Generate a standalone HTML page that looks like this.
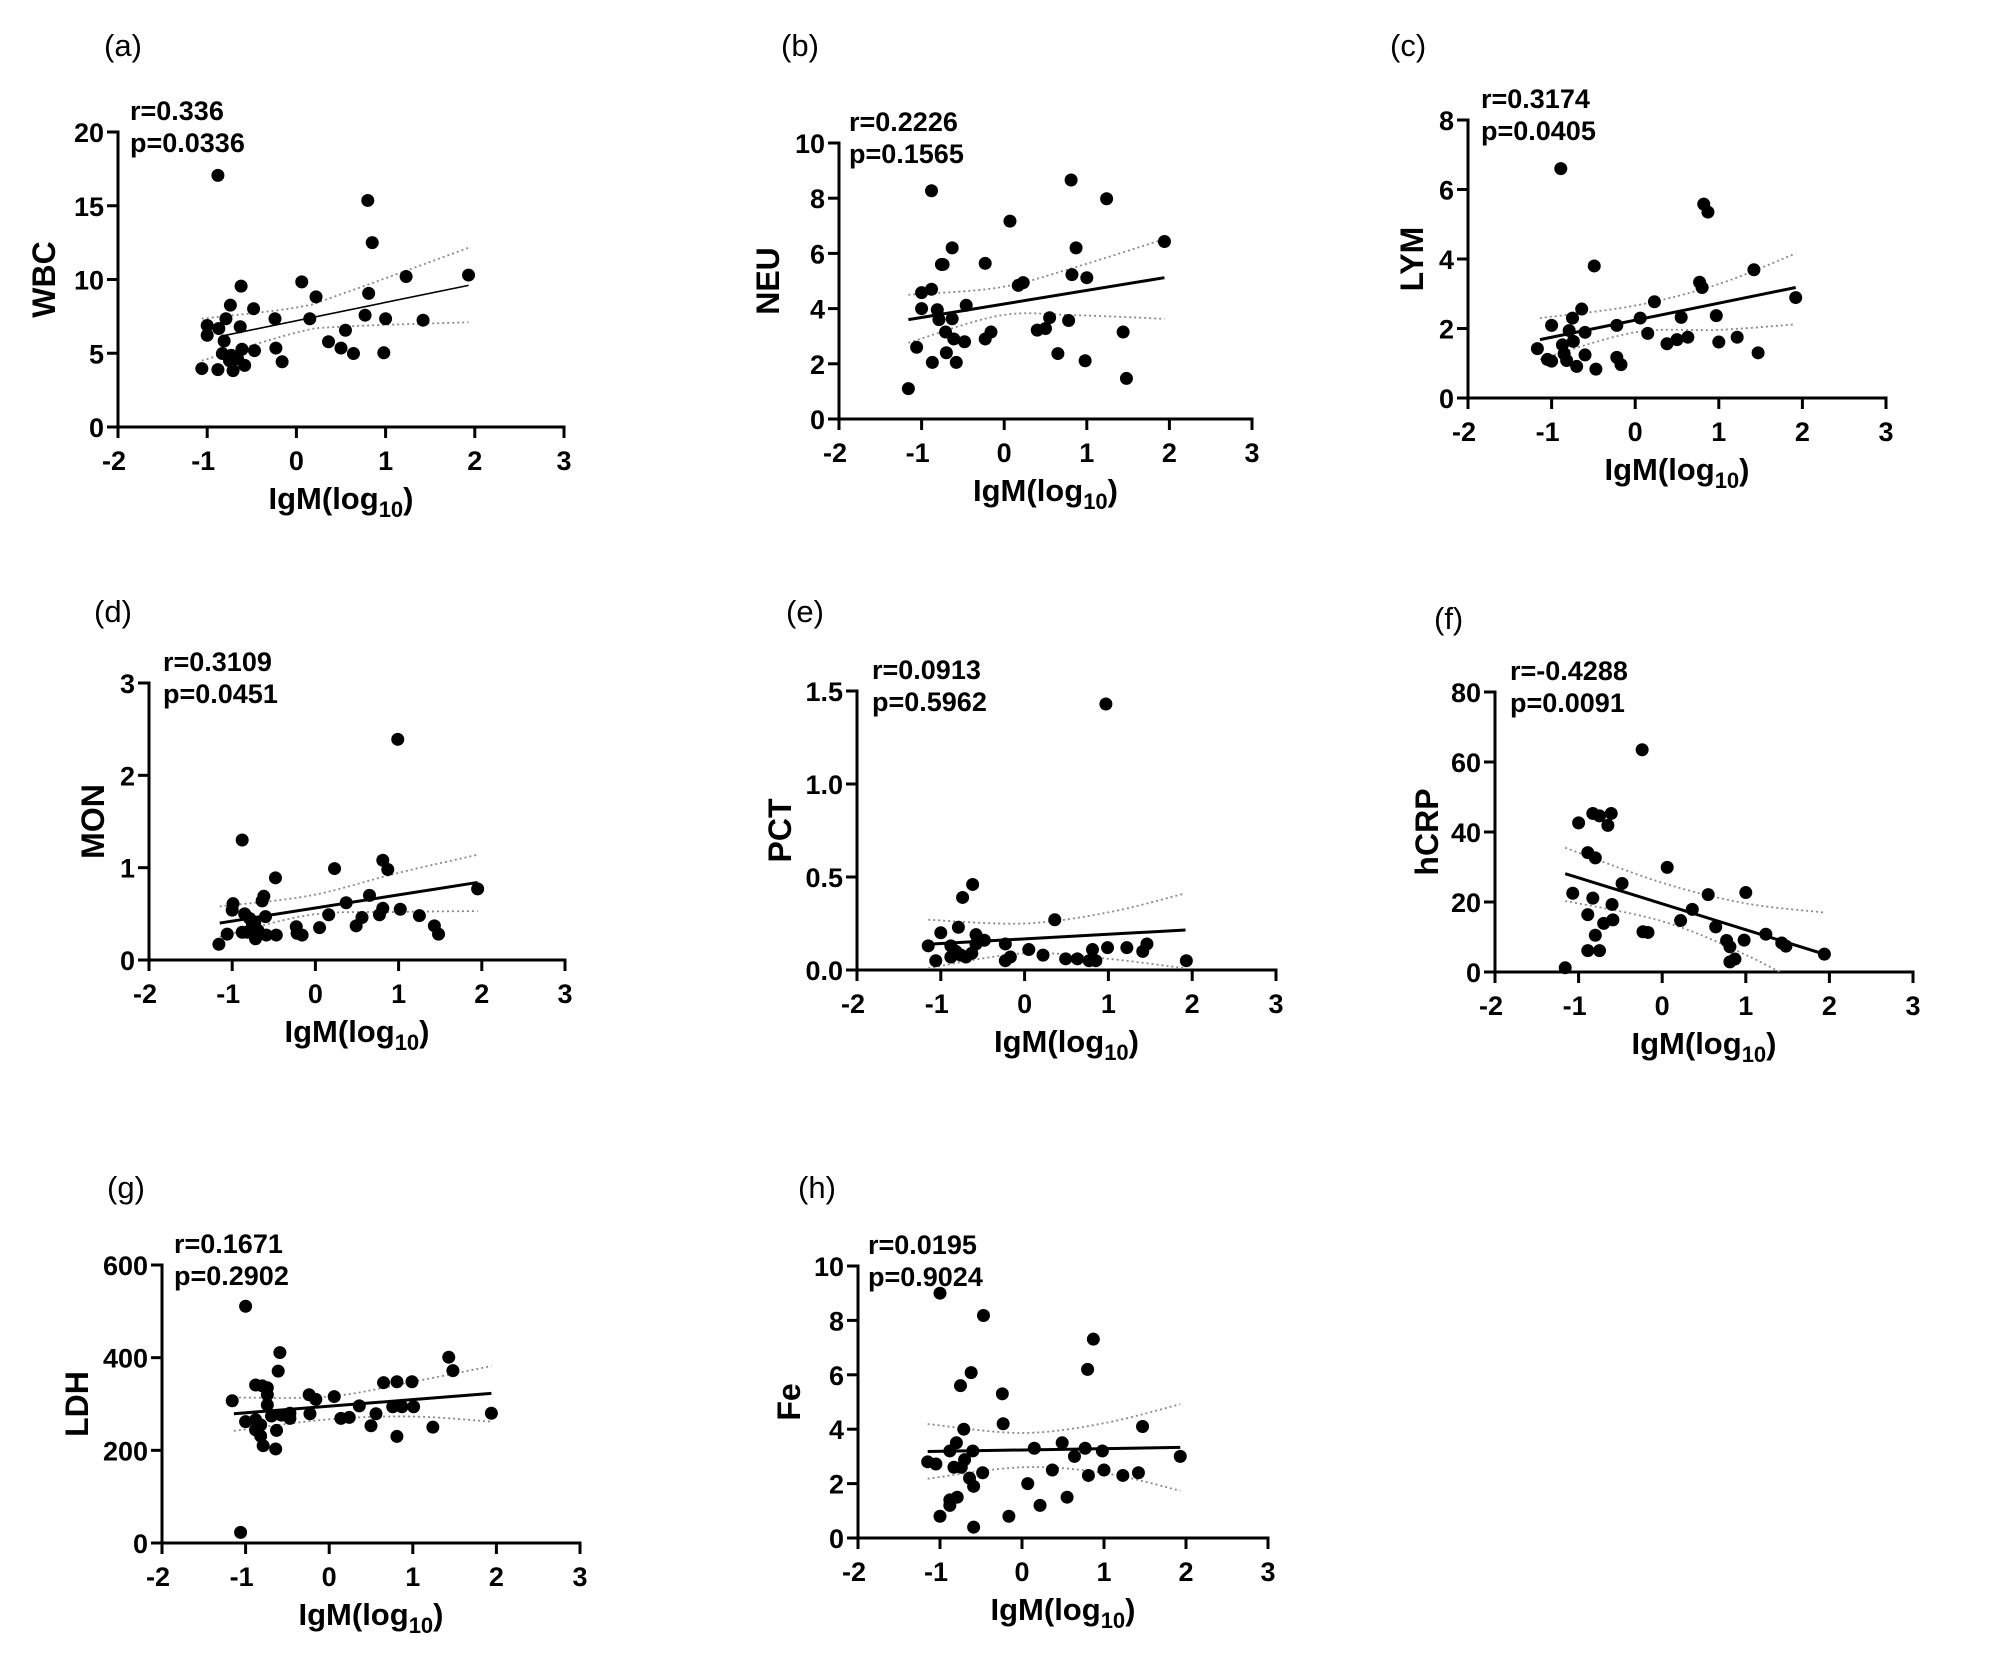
<!DOCTYPE html>
<html><head><meta charset="utf-8"><style>
html,body{margin:0;padding:0;background:#fff;}
svg{display:block;}
text{font-family:"Liberation Sans",Arial,sans-serif;}
</style></head><body>
<svg id="fig" width="2000" height="1661" viewBox="0 0 2000 1661" xmlns="http://www.w3.org/2000/svg"></svg>
<script>
// ---- data ----
const xTicks=[-2,-1,0,1,2,3];
const aX=[-0.88,0.80,0.85,1.23,1.93,0.06,-0.62,0.22,0.81,-0.74,-0.48,-1.0,-1.0,-0.87,-0.79,-0.63,-0.24,0.15,0.77,1.0,1.42,0.55,-0.81,0.36,0.5,0.64,0.98,-0.23,-0.16,-0.47,-0.61,-0.83,-0.73,-0.66,-0.58,-0.71,-0.88,-1.06,-0.75];
const aY=[17.06,15.36,12.5,10.2,10.3,9.84,9.55,8.82,9.06,8.26,8.02,6.88,6.22,6.68,7.34,6.8,7.34,7.34,7.58,7.34,7.24,6.56,5.83,5.78,5.35,4.98,5.03,5.35,4.42,5.18,5.27,4.98,4.86,4.62,4.18,3.82,3.89,3.96,4.5];
const aFitX=[-0.81,1.93], aFitY=[6.2,9.6];
const aCiX=[-1.06,0,0.5,1.93], aCiUp=[7.34,8.1,9.0,12.15], aCiLo=[4.5,6.4,6.8,7.1];
const aYTicks=[0,5,10,15,20], aYLabels=["0","5","10","15","20"];

const bX=[-1.16,-1.06,-0.87,-1.0,-1.0,-0.88,-0.88,-0.81,-0.79,-0.76,-0.71,-0.70,-0.63,-0.63,-0.61,-0.58,-0.48,-0.46,-0.23,-0.23,-0.16,0.07,0.17,0.23,0.4,0.5,0.55,0.65,0.78,0.81,0.82,0.87,0.98,1.0,1.24,1.44,1.48,1.94,-0.74];
const bY=[1.1,2.6,2.05,4.0,4.58,4.7,8.27,3.96,3.6,5.6,3.15,2.4,6.2,3.63,2.9,2.05,2.8,4.12,5.64,2.9,3.15,7.17,4.84,4.94,3.22,3.28,3.67,2.37,3.57,8.66,5.23,6.2,2.11,5.12,7.98,3.15,1.47,6.43,5.6];
const bFitX=[-1.16,1.94], bFitY=[3.6,5.12];
const bCiX=[-1.16,-0.05,0.85,1.94], bCiUp=[4.5,4.77,5.49,6.52], bCiLo=[2.76,3.75,3.76,3.63];
const bYTicks=[0,2,4,6,8,10], bYLabels=["0","2","4","6","8","10"];

const cX=[-1.17,-1.05,-1.0,-1.0,-0.89,-0.87,-0.85,-0.82,-0.79,-0.75,-0.74,-0.7,-0.64,-0.6,-0.6,-0.49,-0.47,-0.22,-0.22,-0.17,0.06,0.15,0.23,0.38,0.5,0.55,0.63,0.77,0.8,0.82,0.87,0.97,1.0,1.22,1.42,1.47,1.92];
const cY=[1.42,1.11,1.06,2.09,6.6,1.53,1.27,1.08,1.94,2.3,1.63,0.91,2.56,1.89,1.24,3.8,0.83,1.17,2.09,0.96,2.3,1.86,2.77,1.56,1.68,2.32,1.75,3.33,3.18,5.58,5.35,2.37,1.61,1.75,3.69,1.3,2.89];
const cFitX=[-1.14,1.92], cFitY=[1.68,3.18];
const cCiX=[-1.14,0,1,1.92], cCiUp=[2.3,2.66,3.28,4.16], cCiLo=[1.11,1.89,1.96,2.12];
const cYTicks=[0,2,4,6,8], cYLabels=["0","2","4","6","8"];

const dX=[-1.16,-1.06,-0.99,-1.0,-0.88,-0.88,-0.85,-0.82,-0.79,-0.76,-0.73,-0.72,-0.69,-0.64,-0.62,-0.6,-0.59,-0.48,-0.47,-0.23,-0.22,-0.16,0.05,0.16,0.23,0.37,0.49,0.56,0.65,0.77,0.81,0.81,0.87,0.99,1.02,1.25,1.43,1.48,1.95];
const dY=[0.17,0.28,0.61,0.54,1.30,0.30,0.5,0.30,0.45,0.36,0.4,0.23,0.32,0.64,0.69,0.47,0.27,0.89,0.27,0.36,0.29,0.27,0.35,0.49,0.99,0.62,0.37,0.46,0.7,0.49,0.56,1.08,0.98,2.39,0.55,0.48,0.37,0.28,0.77];
const dFitX=[-1.15,1.95], dFitY=[0.40,0.84];
const dCiX=[-1.15,-0.05,0.98,1.95], dCiUp=[0.58,0.70,0.94,1.14], dCiLo=[0.25,0.49,0.52,0.53];
const dYTicks=[0,1,2,3], dYLabels=["0","1","2","3"];

const eX=[0.97,-0.62,-0.74,-0.79,-1.0,0.36,-1.15,-1.06,-0.88,-0.88,-0.82,-0.76,-0.7,-0.63,-0.58,-0.58,-0.48,-0.23,-0.23,-0.17,0.05,0.22,0.49,0.63,0.77,0.81,0.85,0.99,1.22,1.41,1.46,1.93];
const eY=[1.43,0.46,0.39,0.23,0.2,0.27,0.13,0.05,0.13,0.07,0.10,0.08,0.07,0.09,0.14,0.19,0.16,0.14,0.05,0.07,0.11,0.08,0.06,0.06,0.05,0.11,0.05,0.12,0.12,0.10,0.14,0.05];
const eFitX=[-1.1,1.92], eFitY=[0.14,0.215];
const eCiX=[-1.15,0,1,1.9], eCiUp=[0.27,0.25,0.31,0.41], eCiLo=[0.01,0.09,0.06,0.01];
const eYTicks=[0,0.5,1.0,1.5], eYLabels=["0.0","0.5","1.0","1.5"];

const fX=[-0.24,-0.83,-0.75,-0.61,-1.0,-0.65,-0.89,-0.8,0.06,-0.48,-1.07,0.55,1.0,-0.83,-0.6,0.36,-0.89,-0.59,-0.7,0.22,0.64,-0.23,-0.17,-0.8,1.24,0.77,0.98,0.81,1.43,1.48,-0.89,-0.75,0.81,0.87,1.94,-1.16];
const fY=[63.5,45.3,44.6,45.3,42.6,41.9,34.1,32.6,29.9,25.3,22.5,22.1,22.7,21.1,19.3,17.9,16.4,14.9,13.9,14.7,12.9,11.5,11.3,10.5,10.8,9.0,9.1,7.2,8.3,7.4,6.1,6.1,2.9,3.7,5.1,1.2];
const fFitX=[-1.16,1.94], fFitY=[28.1,5.1];
const fCiX=[-1.16,0,1,1.94], fCiUp=[35.5,25.5,19.6,17.0], fCiLo=[20.3,14.5,4.9,-7];
const fYTicks=[0,20,40,60,80], fYLabels=["0","20","40","60","80"];

const gX=[-1.0,-1.06,-0.59,-0.61,-1.16,-0.88,-0.8,-0.74,-0.74,-0.74,-1.0,-0.88,-0.82,-0.88,-0.82,-0.79,-0.64,-0.63,-0.69,-0.57,-0.47,-0.47,-0.24,-0.16,-0.23,0.06,0.14,0.24,0.36,0.5,0.56,0.65,0.76,0.81,0.81,0.87,0.99,1.01,1.24,1.43,1.48,1.94];
const gY=[511,23,411,371,307,341,339,335,320,298,262,266,255,244,231,210,203,243,274,276,280,269,320,310,279,316,269,271,296,253,279,346,294,348,230,294,348,294,250,401,372,280];
const gFitX=[-1.14,1.94], gFitY=[279,323];
const gCiX=[-1.14,0,1,1.94], gCiUp=[314,316,348,382], gCiLo=[242,267,273,262];
const gYTicks=[0,200,400,600], gYLabels=["0","200","400","600"];

const hX=[-1.0,-0.47,0.87,0.8,-0.62,-0.75,-0.24,-0.23,1.47,-0.71,-0.8,0.49,0.15,0.77,0.98,-0.88,-0.6,0.64,1.93,-1.15,-1.05,-0.7,-0.83,-0.74,0.37,1.0,-0.48,1.42,0.81,1.23,-0.64,-0.59,0.07,-0.79,-0.88,-0.88,0.55,0.22,-1.0,-0.16,-0.59];
const hY=[9.0,8.18,7.31,6.2,6.08,5.6,5.3,4.2,4.1,4.0,3.5,3.5,3.3,3.3,3.2,3.2,3.2,3.0,3.0,2.8,2.72,2.88,2.6,2.6,2.5,2.5,2.4,2.4,2.3,2.3,2.2,1.9,2.0,1.5,1.4,1.2,1.5,1.2,0.8,0.8,0.4];
const hFitX=[-1.15,1.93], hFitY=[3.18,3.33];
const hCiX=[-1.15,0,1,1.93], hCiUp=[4.19,3.86,4.22,4.92], hCiLo=[2.18,2.6,2.39,1.74];
const hYTicks=[0,2,4,6,8,10], hYLabels=["0","2","4","6","8","10"];

// ---- layout ----
const panels=[
 {id:'a',letter:'(a)',lx:104,ly:56,name:'WBC',ylx:44,L:118,R:564,B:427,T:132,ymax:20,r:'r=0.336',p:'p=0.0336',ax:130,X:aX,Y:aY,fx:aFitX,fy:aFitY,cx:aCiX,cu:aCiUp,cl:aCiLo,yt:aYTicks,yl:aYLabels,fw:1.6},
 {id:'b',letter:'(b)',lx:781,ly:56,name:'NEU',ylx:768,L:839,R:1252,B:419,T:143,ymax:10,r:'r=0.2226',p:'p=0.1565',ax:849,X:bX,Y:bY,fx:bFitX,fy:bFitY,cx:bCiX,cu:bCiUp,cl:bCiLo,yt:bYTicks,yl:bYLabels,fw:3},
 {id:'c',letter:'(c)',lx:1390,ly:56,name:'LYM',ylx:1412,L:1468,R:1886,B:398,T:120,ymax:8,r:'r=0.3174',p:'p=0.0405',ax:1481,X:cX,Y:cY,fx:cFitX,fy:cFitY,cx:cCiX,cu:cCiUp,cl:cCiLo,yt:cYTicks,yl:cYLabels,fw:3},
 {id:'d',letter:'(d)',lx:94,ly:622,name:'MON',ylx:93,L:149,R:565,B:960,T:683,ymax:3,r:'r=0.3109',p:'p=0.0451',ax:163,X:dX,Y:dY,fx:dFitX,fy:dFitY,cx:dCiX,cu:dCiUp,cl:dCiLo,yt:dYTicks,yl:dYLabels,fw:3},
 {id:'e',letter:'(e)',lx:786,ly:622,name:'PCT',ylx:780,L:857,R:1276,B:970,T:691,ymax:1.5,r:'r=0.0913',p:'p=0.5962',ax:872,X:eX,Y:eY,fx:eFitX,fy:eFitY,cx:eCiX,cu:eCiUp,cl:eCiLo,yt:eYTicks,yl:eYLabels,fw:3},
 {id:'f',letter:'(f)',lx:1434,ly:629,name:'hCRP',ylx:1427,L:1495,R:1913,B:972,T:692,ymax:80,r:'r=-0.4288',p:'p=0.0091',ax:1510,X:fX,Y:fY,fx:fFitX,fy:fFitY,cx:fCiX,cu:fCiUp,cl:fCiLo,yt:fYTicks,yl:fYLabels,fw:3},
 {id:'g',letter:'(g)',lx:107,ly:1198,name:'LDH',ylx:77,L:162,R:580,B:1543,T:1265,ymax:600,r:'r=0.1671',p:'p=0.2902',ax:174,X:gX,Y:gY,fx:gFitX,fy:gFitY,cx:gCiX,cu:gCiUp,cl:gCiLo,yt:gYTicks,yl:gYLabels,fw:3},
 {id:'h',letter:'(h)',lx:798,ly:1198,name:'Fe',ylx:789,L:858,R:1268,B:1538,T:1266,ymax:10,r:'r=0.0195',p:'p=0.9024',ax:868,X:hX,Y:hY,fx:hFitX,fy:hFitY,cx:hCiX,cu:hCiUp,cl:hCiLo,yt:hYTicks,yl:hYLabels,fw:3}
];
const NS='http://www.w3.org/2000/svg';
const svg=document.getElementById('fig');
function mk(tag,attrs,parent,txt){const e=document.createElementNS(NS,tag);for(const k in attrs)e.setAttribute(k,attrs[k]);if(txt!==undefined)e.textContent=txt;(parent||svg).appendChild(e);return e;}
function catmull(pts){let d='M'+pts[0][0]+','+pts[0][1];for(let i=0;i<pts.length-1;i++){const p0=pts[Math.max(i-1,0)],p1=pts[i],p2=pts[i+1],p3=pts[Math.min(i+2,pts.length-1)];const c1=[p1[0]+(p2[0]-p0[0])/6,p1[1]+(p2[1]-p0[1])/6],c2=[p2[0]-(p3[0]-p1[0])/6,p2[1]-(p3[1]-p1[1])/6];d+=' C'+c1[0]+','+c1[1]+' '+c2[0]+','+c2[1]+' '+p2[0]+','+p2[1];}return d;}
const defs=mk('defs',{});
panels.forEach(P=>{
  const sx=v=>P.L+(v+2)/5*(P.R-P.L);
  const sy=v=>P.B-v/P.ymax*(P.B-P.T);
  const g=mk('g',{});
  
  
  const cp=mk('clipPath',{id:'clip-'+P.id},defs);
  mk('rect',{x:P.L,y:P.T-20,width:P.R-P.L,height:P.B-P.T+20},cp);
  const lt=mk('text',{x:P.lx,y:P.ly,'font-size':31},g,P.letter);
  
  
  const ya=mk('g',{},g);
  
  
  mk('line',{x1:P.L,y1:P.T-1.5,x2:P.L,y2:P.B,stroke:'#000','stroke-width':3},ya);
  P.yt.forEach((t,i)=>{
    const y=sy(t);
    mk('line',{x1:P.L-11,y1:y,x2:P.L,y2:y,stroke:'#000','stroke-width':3},ya);
    const tl=mk('text',{x:P.L-14,y:y+10,'font-size':27,'font-weight':'bold','text-anchor':'end'},ya,P.yl[i]);
    
    
  });
  const yt=mk('text',{x:P.ylx,y:(P.T+P.B)/2,'font-size':32,'font-weight':'bold','text-anchor':'middle','dominant-baseline':'central',transform:'rotate(-90 '+P.ylx+' '+((P.T+P.B)/2)+')'},g,P.name);
  
  
  const xa=mk('g',{},g);
  
  
  mk('line',{x1:P.L-1.5,y1:P.B,x2:P.R+1.5,y2:P.B,stroke:'#000','stroke-width':3},xa);
  xTicks.forEach(t=>{
    const x=sx(t);
    mk('line',{x1:x,y1:P.B,x2:x,y2:P.B+11,stroke:'#000','stroke-width':3},xa);
    const tl=mk('text',{x:x-(t<0?4:0),y:P.B+43,'font-size':27,'font-weight':'bold','text-anchor':'middle'},xa,String(t));
    
    
  });
  const xt=mk('text',{x:(P.L+P.R)/2,y:P.B+82,'font-size':31,'font-weight':'bold','text-anchor':'middle'},g);
  
  
  xt.appendChild(document.createTextNode('IgM(log'));
  mk('tspan',{'font-size':22,dy:8},xt,'10');
  mk('tspan',{dy:-8},xt,')');
  const st=mk('g',{},g);
  
  
  mk('text',{x:P.ax,y:P.T-12,'font-size':27,'font-weight':'bold'},st,P.r);
  mk('text',{x:P.ax,y:P.T+20,'font-size':27,'font-weight':'bold'},st,P.p);
  const ci=mk('g',{'clip-path':'url(#clip-'+P.id+')'},g);
  
  
  [P.cu,P.cl].forEach(arr=>{
    mk('path',{d:catmull(P.cx.map((x,i)=>[sx(x),sy(arr[i])])),fill:'none',stroke:'#8a8a8a','stroke-width':1.8,'stroke-dasharray':'2 3'},ci);
  });
  const pts=mk('g',{},g);
  
  
  P.X.forEach((x,i)=>{
    const c=mk('circle',{cx:sx(x),cy:sy(P.Y[i]),r:6.5,fill:'#000'},pts);
    
    
  });
  const fl=mk('line',{x1:sx(P.fx[0]),y1:sy(P.fy[0]),x2:sx(P.fx[1]),y2:sy(P.fy[1]),stroke:'#000','stroke-width':P.fw},g);
  
  
});
</script>
</body></html>
